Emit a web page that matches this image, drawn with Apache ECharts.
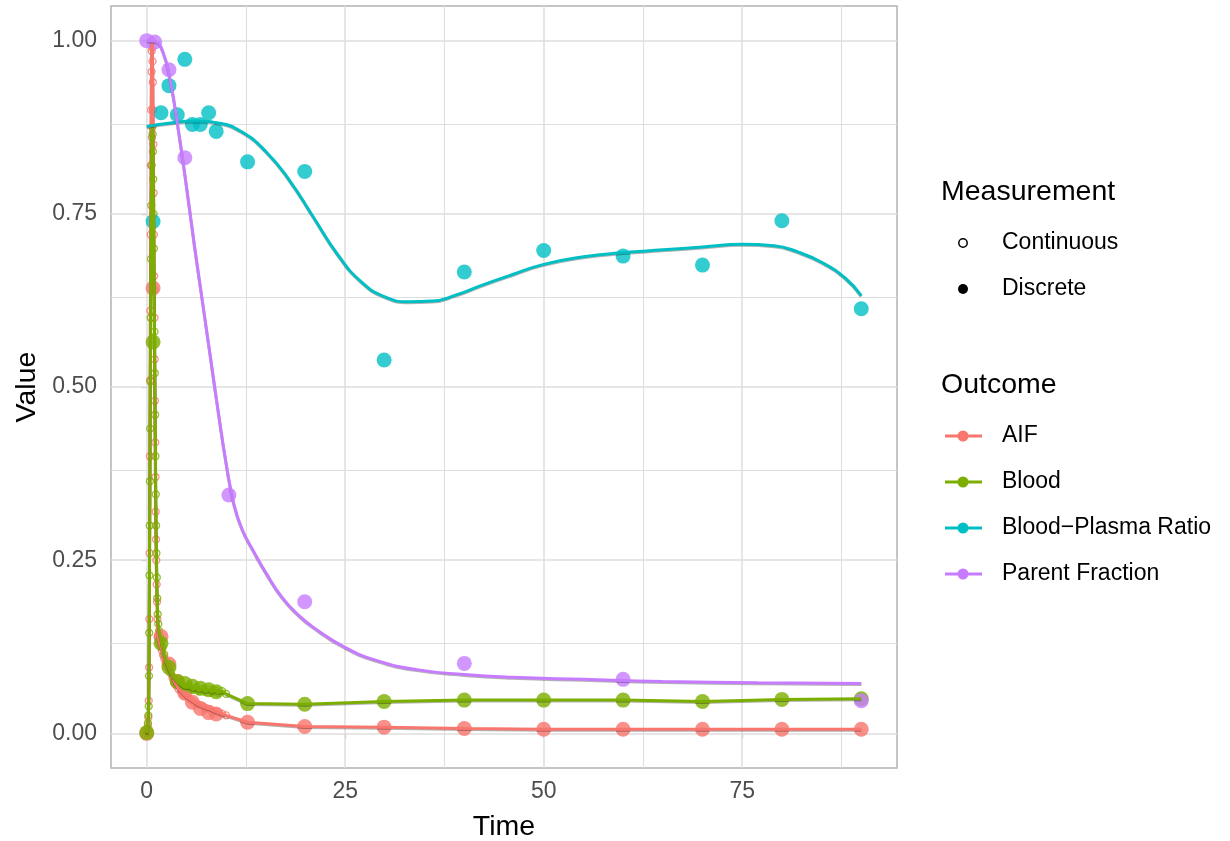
<!DOCTYPE html>
<html>
<head>
<meta charset="utf-8">
<title>Time curves</title>
<script src="https://cdn.jsdelivr.net/npm/echarts@6/dist/echarts.min.js"></script>
<style>
html,body{margin:0;padding:0;background:#fff;}
#main{width:1230px;height:841px;}
</style>
</head>
<body>
<div id="main"></div>
<script>
// axis ticks
var timeTicks = [0, 25, 50, 75];
var timeMinor = [12.5, 37.5, 62.5, 87.5];
var valueTicks = [0, 0.25, 0.5, 0.75, 1];
var valueMinor = [0.125, 0.375, 0.625, 0.875];

// continuous samples
var aifContTime = [0, 0.05, 0.1, 0.15, 0.2, 0.25, 0.3, 0.33, 0.36, 0.4, 0.43, 0.46, 0.5, 0.53, 0.56, 0.6, 0.63, 0.67, 0.7, 0.73, 0.77, 0.8, 0.83, 0.87, 0.9, 0.93, 0.97, 1.0, 1.03, 1.07, 1.1, 1.13, 1.17, 1.2, 1.25, 1.3, 1.35, 1.4, 1.5, 1.6, 1.75, 1.9, 2.05, 2.2, 2.4, 2.6, 2.8, 3.0, 3.25, 3.5, 3.75, 4.0, 4.3, 4.6, 4.9, 5.25, 5.6, 6.0, 6.4, 6.8, 7.2, 7.6, 8.0, 8.5, 9.0, 9.5, 10.0];
var aifContValue = [0, 0.002, 0.005, 0.012, 0.023, 0.047, 0.095, 0.165, 0.26, 0.40, 0.51, 0.61, 0.72, 0.82, 0.90, 0.955, 0.985, 1.0, 0.99, 0.97, 0.94, 0.90, 0.85, 0.78, 0.72, 0.66, 0.60, 0.54, 0.48, 0.42, 0.37, 0.32, 0.28, 0.25, 0.215, 0.19, 0.165, 0.14, 0.135, 0.13, 0.125, 0.12, 0.113, 0.108, 0.103, 0.098, 0.092, 0.087, 0.08, 0.074, 0.069, 0.064, 0.061, 0.057, 0.054, 0.051, 0.048, 0.045, 0.042, 0.04, 0.038, 0.036, 0.035, 0.032, 0.03, 0.028, 0.026];
var bloodContTime = [0, 0.05, 0.1, 0.15, 0.2, 0.25, 0.28, 0.31, 0.34, 0.37, 0.4, 0.43, 0.46, 0.5, 0.54, 0.58, 0.62, 0.66, 0.7, 0.74, 0.78, 0.82, 0.86, 0.9, 0.94, 0.98, 1.02, 1.06, 1.1, 1.14, 1.18, 1.22, 1.27, 1.32, 1.38, 1.45, 1.55, 1.7, 1.85, 2.0, 2.2, 2.45, 2.7, 3.0, 3.3, 3.6, 3.9, 4.25, 4.6, 5.0, 5.4, 5.8, 6.2, 6.6, 7.0, 7.4, 7.8, 8.2, 8.6, 9.0, 9.5, 10.0];
var bloodContValue = [0, 0.003, 0.008, 0.015, 0.026, 0.039, 0.083, 0.145, 0.228, 0.30, 0.364, 0.44, 0.508, 0.60, 0.685, 0.762, 0.82, 0.86, 0.875, 0.865, 0.84, 0.80, 0.75, 0.70, 0.64, 0.58, 0.52, 0.46, 0.40, 0.345, 0.30, 0.26, 0.225, 0.195, 0.172, 0.158, 0.148, 0.14, 0.132, 0.124, 0.114, 0.104, 0.096, 0.088, 0.082, 0.078, 0.074, 0.071, 0.068, 0.066, 0.067, 0.063, 0.065, 0.061, 0.064, 0.06, 0.063, 0.059, 0.062, 0.058, 0.061, 0.057];

// discrete samples
var discTime = [0, 0.8, 1.8, 2.8, 3.85, 4.8, 5.75, 6.75, 7.8, 8.75, 12.7, 19.9, 29.9, 40, 50, 60, 70, 80, 90];
var aifDiscValue = [0, 0.643, 0.14, 0.10, 0.075, 0.058, 0.045, 0.036, 0.030, 0.028, 0.016, 0.010, 0.009, 0.007, 0.006, 0.006, 0.006, 0.006, 0.006];
var bloodDiscValue = [0.001, 0.565, 0.13, 0.095, 0.075, 0.072, 0.068, 0.065, 0.063, 0.06, 0.043, 0.042, 0.046, 0.048, 0.048, 0.048, 0.046, 0.049, 0.050];
var ratioTime = [0.8, 1.8, 2.8, 3.85, 4.8, 5.75, 6.75, 7.8, 8.75, 12.7, 19.9, 29.9, 40, 50, 60, 70, 80, 90];
var ratioValue = [0.739, 0.896, 0.935, 0.893, 0.973, 0.879, 0.879, 0.896, 0.869, 0.825, 0.811, 0.539, 0.666, 0.697, 0.689, 0.676, 0.740, 0.613];
var parentTime = [0, 1.0, 2.8, 4.8, 10.35, 19.9, 40, 60, 90];
var parentValue = [1.0, 0.998, 0.958, 0.831, 0.344, 0.19, 0.101, 0.078, 0.047];

// fitted curves
var ratioFitTime = [0, 3, 6, 9, 12, 15, 18, 21, 24, 27, 30, 33, 36, 39, 42, 46, 50, 55, 60, 65, 70, 75, 79, 82, 85, 88, 90];
var ratioFitValue = [0.876, 0.881, 0.884, 0.881, 0.868, 0.840, 0.798, 0.745, 0.692, 0.652, 0.630, 0.623, 0.624, 0.633, 0.646, 0.662, 0.677, 0.688, 0.694, 0.698, 0.702, 0.706, 0.704, 0.695, 0.680, 0.657, 0.632];
var parentFitTime = [0, 1, 2, 3, 4, 5, 6, 7, 8, 9, 10, 11, 12, 13.5, 15, 17, 19, 21, 25, 29, 34, 40, 46, 55, 65, 77, 90];
var parentFitValue = [1.0, 0.999, 0.985, 0.94, 0.87, 0.79, 0.705, 0.625, 0.545, 0.465, 0.39, 0.33, 0.295, 0.262, 0.232, 0.197, 0.172, 0.153, 0.124, 0.105, 0.092, 0.085, 0.081, 0.078, 0.075, 0.073, 0.072];

var outcomeNames = ['AIF', 'Blood', 'Blood\u2212Plasma Ratio', 'Parent Fraction'];
var colors = ['#F8766D', '#7CAE00', '#00BFC4', '#C77CFF'];
var FONT = '"Liberation Sans", Arial, Helvetica, sans-serif';

var chart = echarts.init(document.getElementById('main'), null, {renderer: 'canvas'});

function pairs(t, v) {
	var out = [];
	for (var i = 0; i < t.length; i++) {
		out.push([t[i], v[i]]);
	}
	return out;
}

// the jagged lines run through the continuous samples, then the later discrete ones
function tail(t, v, from) {
	return pairs(t, v).filter(function(p) { return p[0] > from; });
}

var gridLines = [];
timeTicks.forEach(function(v) { gridLines.push({xAxis: v, lineStyle: {width: 1.5}}); });
timeMinor.forEach(function(v) { gridLines.push({xAxis: v, lineStyle: {width: 1.1}}); });
valueTicks.forEach(function(v) { gridLines.push({yAxis: v, lineStyle: {width: 1.5}}); });
valueMinor.forEach(function(v) { gridLines.push({yAxis: v, lineStyle: {width: 1.1}}); });

var lineShadow = {shadowColor: 'rgba(0,0,0,0.3)', shadowBlur: 0, shadowOffsetX: 0, shadowOffsetY: 1};

function contSeries(data, color) {
	return {
		type: 'scatter',
		data: data,
		symbol: 'circle',
		symbolSize: 7,
		itemStyle: {color: 'rgba(255,255,255,0)', borderColor: color, borderWidth: 1.3},
		z: 3
	};
}

function discSeries(data, color) {
	return {
		type: 'scatter',
		data: data,
		symbol: 'circle',
		symbolSize: 15,
		itemStyle: {color: color},
		z: 4
	};
}

function lineSeries(data, color, smooth) {
	return {
		type: 'line',
		data: data,
		showSymbol: false,
		smooth: smooth ? 0.5 : false,
		lineStyle: Object.assign({color: color, width: 3}, lineShadow),
		z: 5
	};
}

var legendItems = [];
function ltext(x, y, s, size, color) {
	legendItems.push({
		type: 'text', x: x, y: y, z: 10,
		style: {text: s, fontSize: size, fontFamily: FONT, fill: color || '#000', align: 'left', verticalAlign: 'middle'}
	});
}
ltext(941, 192, 'Measurement', 28.5);
legendItems.push({type: 'circle', z: 10, shape: {cx: 963, cy: 243, r: 4.2}, style: {fill: '#fff', stroke: '#000', lineWidth: 1.5}});
ltext(1002, 243, 'Continuous', 23);
legendItems.push({type: 'circle', z: 10, shape: {cx: 963, cy: 289, r: 5}, style: {fill: '#000'}});
ltext(1002, 289, 'Discrete', 23);
ltext(941, 385, 'Outcome', 28.5);
var keyY = [436, 482, 528, 574];
for (var k = 0; k < outcomeNames.length; k++) {
	legendItems.push({type: 'line', z: 10, shape: {x1: 945, y1: keyY[k], x2: 982, y2: keyY[k]}, style: {stroke: colors[k], lineWidth: 3}});
	legendItems.push({type: 'circle', z: 11, shape: {cx: 963, cy: keyY[k], r: 5.5}, style: {fill: colors[k]}});
	ltext(1002, keyY[k], outcomeNames[k], 23);
}

var option = {
	animation: false,
	backgroundColor: '#fff',
	grid: {
		left: 111, top: 6, width: 786, height: 762,
		outerBoundsMode: 'none', containLabel: false,
		show: true, borderColor: '#B3B3B3', borderWidth: 1.5, backgroundColor: '#fff'
	},
	xAxis: {
		type: 'value', min: -4.5, max: 94.5,
		name: 'Time', nameLocation: 'middle', nameGap: 45,
		nameTextStyle: {fontSize: 28.5, color: '#000', fontFamily: FONT},
		axisLine: {show: false},
		splitLine: {show: false},
		axisTick: {show: true, length: 5, customValues: timeTicks, lineStyle: {color: '#B3B3B3', width: 1.3}},
		axisLabel: {customValues: timeTicks, fontSize: 23, color: '#4D4D4D', fontFamily: FONT, margin: 12}
	},
	yAxis: {
		type: 'value', min: -0.05, max: 1.05,
		name: 'Value', nameLocation: 'middle', nameGap: 60, nameRotate: 90,
		nameTextStyle: {fontSize: 28.5, color: '#000', fontFamily: FONT},
		axisLine: {show: false},
		splitLine: {show: false},
		axisTick: {show: true, length: 5, customValues: valueTicks, lineStyle: {color: '#B3B3B3', width: 1.3}},
		axisLabel: {
			customValues: valueTicks, fontSize: 23, color: '#4D4D4D', fontFamily: FONT, margin: 14,
			formatter: function(v) { return v.toFixed(2); }
		}
	},
	graphic: legendItems,
	series: [
		{
			type: 'line', data: [[-10, -10]], showSymbol: false, silent: true,
			lineStyle: {width: 0}, z: 1,
			markLine: {
				silent: true, symbol: ['none', 'none'], z: 1,
				label: {show: false},
				lineStyle: {color: '#DEDEDE', type: 'solid'},
				data: gridLines
			}
		},
		contSeries(pairs(aifContTime, aifContValue), colors[0]),
		contSeries(pairs(bloodContTime, bloodContValue), colors[1]),
		discSeries(pairs(discTime, aifDiscValue), colors[0]),
		discSeries(pairs(discTime, bloodDiscValue), colors[1]),
		discSeries(pairs(ratioTime, ratioValue), colors[2]),
		discSeries(pairs(parentTime, parentValue), colors[3]),
		lineSeries(pairs(aifContTime, aifContValue).concat(tail(discTime, aifDiscValue, 10)), colors[0], false),
		lineSeries(pairs(bloodContTime, bloodContValue).concat(tail(discTime, bloodDiscValue, 10)), colors[1], false),
		lineSeries(pairs(ratioFitTime, ratioFitValue), colors[2], true),
		lineSeries(pairs(parentFitTime, parentFitValue), colors[3], true)
	]
};
chart.setOption(option);
window.onresize = function() {
	chart.resize();
};
</script>
</body>
</html>
